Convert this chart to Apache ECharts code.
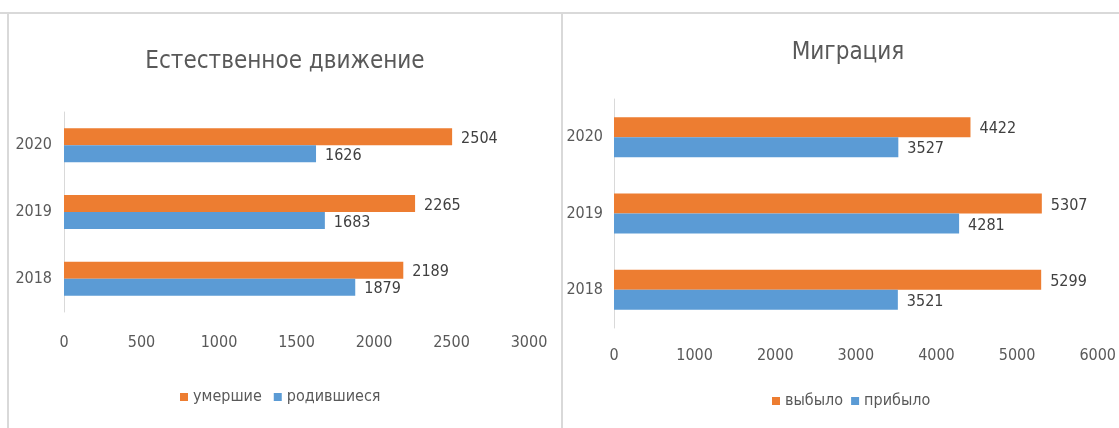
<!DOCTYPE html>
<html><head><meta charset="utf-8">
<script src="https://cdn.jsdelivr.net/npm/echarts@6/dist/echarts.min.js"></script>
<style>html,body{margin:0;padding:0;background:#fff}#c{width:1119px;height:428px}</style>
</head><body><div id="c"></div>
<script>
const years = ['2018', '2019', '2020'];
const births = [1879, 1683, 1626];   // родившиеся
const deaths = [2189, 2265, 2504];   // умершие
const arrived = [3521, 4281, 3527];  // прибыло
const departed = [5299, 5307, 4422]; // выбыло
const leftTitle = 'Естественное движение';
const rightTitle = 'Миграция';

const FF = "'Liberation Sans Narrow', 'DejaVu Sans Condensed', sans-serif";
const ORANGE = '#ED7D31', BLUE = '#5B9BD5';
const chart = echarts.init(document.getElementById('c'));

function barSeries(name, data, color, idx, w) {
  return {
    name, type: 'bar', data, xAxisIndex: idx, yAxisIndex: idx,
    barWidth: w, barGap: '0%',
    itemStyle: { color },
    label: { show: true, position: 'right', distance: 9, color: '#404040',
      fontFamily: FF, fontSize: 16, offset: [0, 2] },
    animation: false
  };
}
const plain = v => String(v);

chart.setOption({
  animation: false,
  textStyle: { fontFamily: FF },
  title: [
    { text: leftTitle, left: 280, top: 45, textAlign: 'center',
      textStyle: { fontFamily: FF, fontSize: 24, fontWeight: 'normal', color: '#595959' } },
    { text: rightTitle, left: 843, top: 36, textAlign: 'center',
      textStyle: { fontFamily: FF, fontSize: 24, fontWeight: 'normal', color: '#595959' } }
  ],
  legend: [
    { data: ['умершие', 'родившиеся'], left: 180, top: 389, padding: 0,
      itemWidth: 8, itemHeight: 8, itemGap: 12, icon: 'rect',
      textStyle: { fontFamily: FF, fontSize: 16, color: '#595959' } },
    { data: ['выбыло', 'прибыло'], left: 772, top: 393, padding: 0,
      itemWidth: 8, itemHeight: 8, itemGap: 8, icon: 'rect',
      textStyle: { fontFamily: FF, fontSize: 16, color: '#595959' } }
  ],
  grid: [
    { left: 64, top: 112, width: 465, height: 200, containLabel: false },
    { left: 614, top: 99, width: 486, height: 229, containLabel: false }
  ],
  xAxis: [
    { type: 'value', gridIndex: 0, min: 0, max: 3000, interval: 500,
      axisLine: { show: false }, axisTick: { show: false }, splitLine: { show: false },
      axisLabel: { color: '#595959', fontSize: 16, fontFamily: FF, margin: 23, formatter: plain } },
    { type: 'value', gridIndex: 1, min: 0, max: 6000, interval: 1000,
      axisLine: { show: false }, axisTick: { show: false }, splitLine: { show: false },
      axisLabel: { color: '#595959', fontSize: 16, fontFamily: FF, margin: 20, formatter: plain } }
  ],
  yAxis: [
    { type: 'category', gridIndex: 0, data: years,
      axisLine: { lineStyle: { color: '#d9d9d9', width: 1 } }, axisTick: { show: false },
      axisLabel: { color: '#595959', fontSize: 16, fontFamily: FF, margin: 12 } },
    { type: 'category', gridIndex: 1, data: years,
      axisLine: { lineStyle: { color: '#d9d9d9', width: 1 } }, axisTick: { show: false },
      axisLabel: { color: '#595959', fontSize: 16, fontFamily: FF, margin: 11 } }
  ],
  series: [
    barSeries('умершие', deaths, ORANGE, 0, 17),
    barSeries('родившиеся', births, BLUE, 0, 17),
    barSeries('выбыло', departed, ORANGE, 1, 20),
    barSeries('прибыло', arrived, BLUE, 1, 20)
  ],
  graphic: [
    { type: 'line', shape: { x1: 0, y1: 13, x2: 1119, y2: 13 }, style: { stroke: '#d9d9d9', lineWidth: 2 }, silent: true },
    { type: 'line', shape: { x1: 8, y1: 13, x2: 8, y2: 428 }, style: { stroke: '#d9d9d9', lineWidth: 2 }, silent: true },
    { type: 'line', shape: { x1: 562, y1: 13, x2: 562, y2: 428 }, style: { stroke: '#d9d9d9', lineWidth: 2 }, silent: true }
  ]
});
</script></body></html>
